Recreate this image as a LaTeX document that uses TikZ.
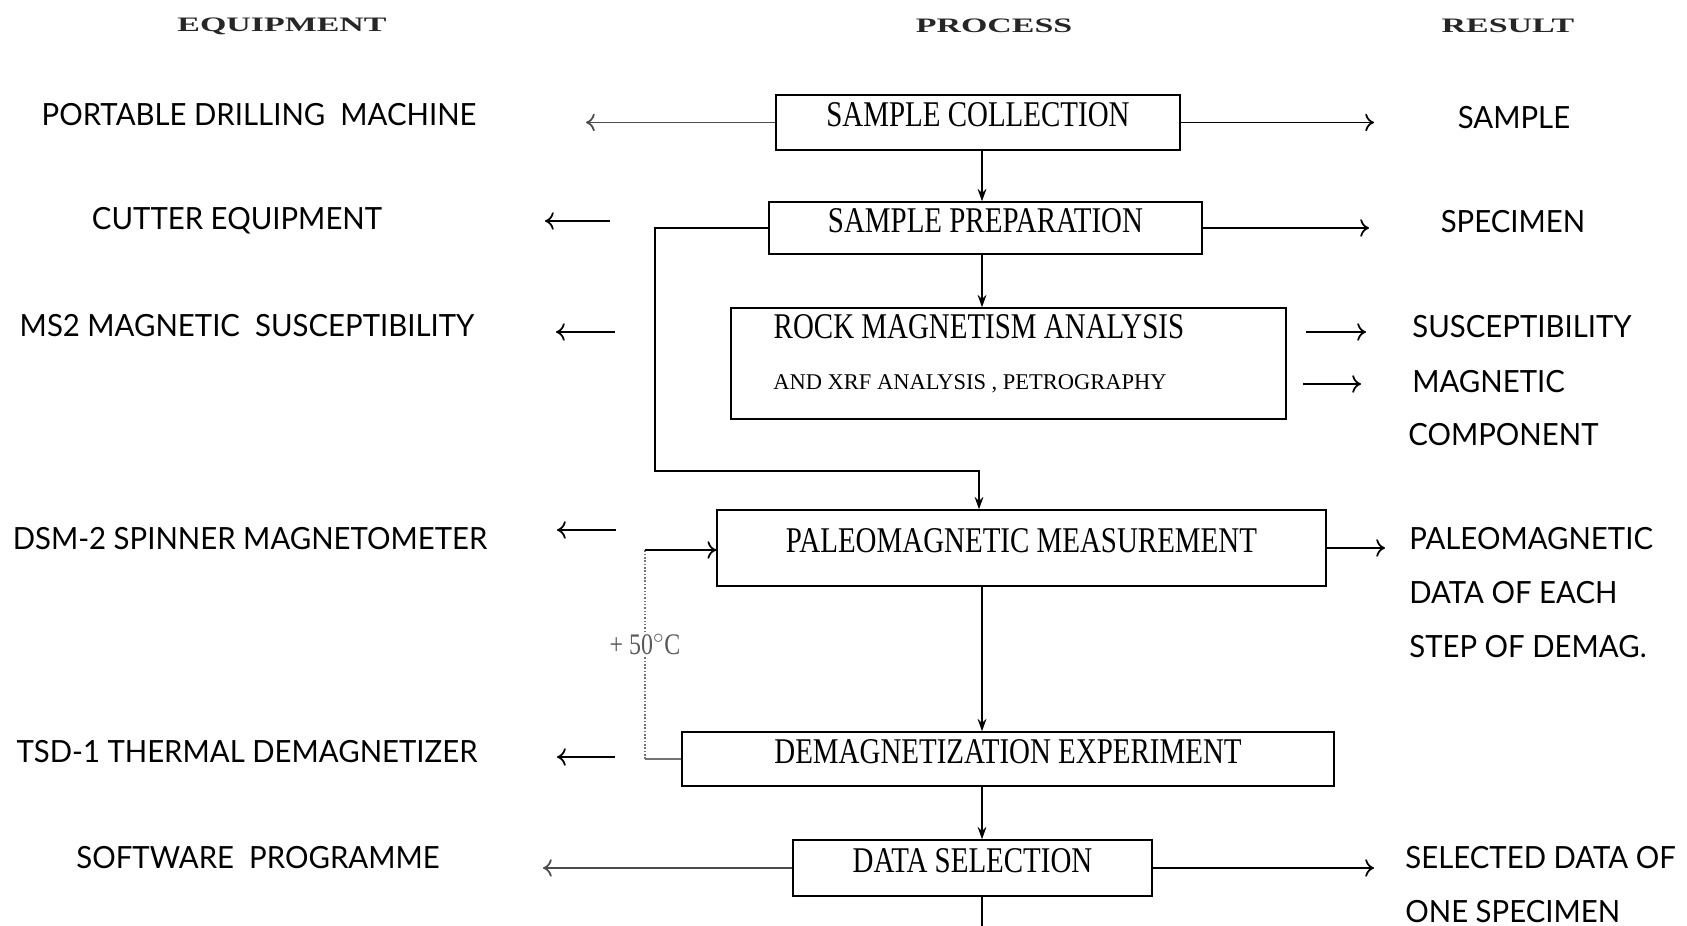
\documentclass[tikz,border=0pt]{standalone}
\usepackage{fontspec}
\setmainfont{Liberation Serif}
\newfontfamily\boxfont[FakeStretch=0.8]{Liberation Serif}
\newfontfamily\headfont[FakeStretch=1.65]{Liberation Serif}
\newfontfamily\sidefont[FakeStretch=0.96]{Lato}
\usetikzlibrary{positioning, arrows.meta, calc}

\tikzset{
  procbox/.style={draw, line width=0.9pt, inner sep=0pt,
    font=\boxfont\fontsize{20.6}{24}\selectfont, text height=0.5cm, text depth=0.34cm},
  boxtext/.style={inner sep=0pt, text depth=0pt},
  head/.style={font=\headfont\bfseries\fontsize{11.7}{14}\selectfont, text=black!85},
  sidelabel/.style={font=\sidefont\fontsize{17.4}{20}\selectfont, inner sep=0pt,
    text height=0.44cm, text depth=0pt},
  sidearrow/.style={line width=1pt, -{To[length=5pt,width=10pt]}},
  flowarrow/.style={line width=0.9pt, -{Stealth[length=7pt,width=5pt]}},
  faded/.style={line width=0.9pt, black!55},
}

\begin{document}
\begin{tikzpicture}[x=0.02cm, y=-0.02cm]
      \useasboundingbox (0,0) rectangle (1687,926);

      % Column headings
      \node[head] (hequip) at (282,26) {EQUIPMENT};
      \node[head] (hproc) at (994,26) {PROCESS};
      \node[head] (hres) at (1508,26) {RESULT};

      % Process boxes
      \node[procbox, minimum width=8.08cm, minimum height=1.1cm] (collect) at (978,122.5) {SAMPLE COLLECTION};
      \node[procbox, minimum width=8.66cm, minimum height=1.04cm] (prep) at (985.5,228) {SAMPLE PREPARATION};
      \node[procbox, minimum width=11.1cm, minimum height=2.22cm] (rock) at (1008.5,363.5) {};
      \node[boxtext, font=\boxfont\fontsize{20.6}{24}\selectfont, text height=0.48cm] (rocktxt) at (979,327) {ROCK MAGNETISM ANALYSIS};
      \node[boxtext, font=\fontsize{12.8}{15}\selectfont, text height=0.3cm] (rocksub) at (970,382) {AND XRF ANALYSIS , PETROGRAPHY};
      \node[procbox, minimum width=12.18cm, minimum height=1.52cm] (paleo) at (1021.5,548) {PALEOMAGNETIC MEASUREMENT};
      \node[procbox, minimum width=13.04cm, minimum height=1.08cm] (demag) at (1008,759) {DEMAGNETIZATION EXPERIMENT};
      \node[procbox, minimum width=7.18cm, minimum height=1.12cm] (select) at (972.5,868) {DATA SELECTION};

      % Equipment
      \node[sidelabel] (drill) at (259,115) {PORTABLE DRILLING\ \ MACHINE};
      \node[sidelabel] (cutter) at (237,219) {CUTTER EQUIPMENT};
      \node[sidelabel] (ms2) at (247,326) {MS2 MAGNETIC\ \ SUSCEPTIBILITY};
      \node[sidelabel] (dsm) at (250,538) {DSM-2 SPINNER MAGNETOMETER};
      \node[sidelabel] (tsd) at (247,751) {TSD-1 THERMAL DEMAGNETIZER};
      \node[sidelabel] (soft) at (258,857) {SOFTWARE\ \ PROGRAMME};

      % Results
      \node[sidelabel] (sample) at (1514,118) {SAMPLE};
      \node[sidelabel] (specimen) at (1513,222) {SPECIMEN};
      \node[sidelabel, anchor=west] (suscept) at (1412,327) {SUSCEPTIBILITY};
      \node[sidelabel, anchor=west] (magn) at (1412,381) {MAGNETIC};
      \node[sidelabel, anchor=west] (compo) at (1408,434) {COMPONENT};
      \node[sidelabel, anchor=west] (pdata1) at (1409,538) {PALEOMAGNETIC};
      \node[sidelabel, anchor=west] (pdata2) at (1409,592) {DATA OF EACH};
      \node[sidelabel, anchor=west] (pdata3) at (1409,646) {STEP OF DEMAG.};
      \node[sidelabel, anchor=west] (sel1) at (1405,857) {SELECTED DATA OF};
      \node[sidelabel, anchor=west] (sel2) at (1405,911) {ONE SPECIMEN};

      % Arrow ends
      \coordinate (spine) at (982,0);
      \coordinate (pageend) at (982,926);
      \coordinate (drillend) at (586,0);
      \coordinate (sampleend) at (1374,0);
      \coordinate (specend) at (1369,0);
      \coordinate (cutA) at (610,221);
      \coordinate (cutB) at (545,221);
      \coordinate (msA) at (615,332);
      \coordinate (msB) at (556,332);
      \coordinate (dsmA) at (616,530);
      \coordinate (dsmB) at (557,530);
      \coordinate (tsdA) at (615,757);
      \coordinate (tsdB) at (557,757);
      \coordinate (susA) at (1306,332);
      \coordinate (susB) at (1366,332);
      \coordinate (magA) at (1303,384);
      \coordinate (magB) at (1361,384);
      \coordinate (pdataend) at (1385,0);
      \coordinate (softend) at (543,0);
      \coordinate (selend) at (1374,0);
      \coordinate (loopa) at (655,471);
      \coordinate (loopb) at (979,471);
      \coordinate (fbtop) at (645,550);

      % Main flow
      \draw[flowarrow] (collect.south -| spine) -- (prep.north -| spine);
      \draw[flowarrow] (prep.south -| spine) -- (rock.north -| spine);
      \draw[flowarrow] (prep.mid west) -| (loopa) -- (loopb) -- (loopb |- paleo.north);
      \draw[flowarrow] (paleo.south -| spine) -- (demag.north -| spine);
      \draw[flowarrow] (demag.south -| spine) -- (select.north -| spine);
      \draw[line width=0.9pt] (select.south -| spine) -- (pageend);

      % Heating loop
      \draw[faded] (demag.west) -- (demag.west -| fbtop);
      \draw[faded, densely dotted] (demag.west -| fbtop) -- node[pos=0.55, fill=white, inner sep=1pt, text=black!65, font=\boxfont\fontsize{17}{20}\selectfont] (heat) {+ 50$^{\circ}$C} (fbtop);
      \draw[sidearrow] (fbtop) -- (fbtop -| paleo.west);

      % Equipment arrows
      \draw[sidearrow, black!70] (collect.mid west) -- (collect.mid west -| drillend);
      \draw[sidearrow] (cutA) -- (cutB);
      \draw[sidearrow] (msA) -- (msB);
      \draw[sidearrow] (dsmA) -- (dsmB);
      \draw[sidearrow] (tsdA) -- (tsdB);
      \draw[sidearrow, black!70] (select.mid west) -- (select.mid west -| softend);

      % Result arrows
      \draw[sidearrow] (collect.mid east) -- (collect.mid east -| sampleend);
      \draw[sidearrow] (prep.mid east) -- (prep.mid east -| specend);
      \draw[sidearrow] (susA) -- (susB);
      \draw[sidearrow] (magA) -- (magB);
      \draw[sidearrow] (paleo.mid east) -- (paleo.mid east -| pdataend);
      \draw[sidearrow] (select.mid east) -- (select.mid east -| selend);
\end{tikzpicture}
\end{document}
